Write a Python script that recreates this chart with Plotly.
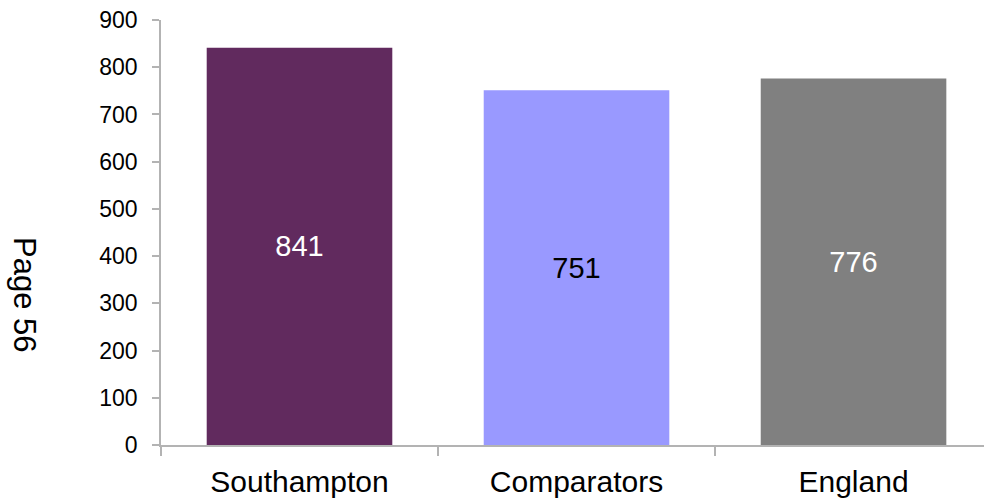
import plotly.graph_objects as go

categories = ["Southampton", "Comparators", "England"]
values = [841, 751, 776]
bar_colors = ["#612A5E", "#9999FF", "#808080"]
label_colors = ["#FFFFFF", "#000000", "#FFFFFF"]
y_ticks = [0, 100, 200, 300, 400, 500, 600, 700, 800, 900]

fig = go.Figure(
    go.Bar(
        x=categories,
        y=values,
        text=[str(v) for v in values],
        textposition="inside",
        insidetextanchor="middle",
        textangle=0,
        textfont=dict(family="Liberation Sans, Arial, sans-serif", size=29, color=label_colors),
        marker=dict(color=bar_colors, line=dict(width=0)),
        width=0.67,
        hoverinfo="skip",
    )
)

axis_color = "#B3B3B3"
fig.update_layout(
    width=984,
    height=500,
    margin=dict(l=161, r=0, t=20, b=55),
    paper_bgcolor="white",
    plot_bgcolor="white",
    showlegend=False,
    font=dict(family="Liberation Sans, Arial, sans-serif", color="#000000"),
    xaxis=dict(
        type="category",
        range=[-0.5, 2.471],
        showgrid=False,
        zeroline=False,
        showline=True,
        linecolor=axis_color,
        linewidth=1.5,
        ticks="outside",
        tickson="boundaries",
        ticklen=9,
        tickcolor=axis_color,
        tickwidth=1.5,
        tickfont=dict(size=30),
        ticklabelstandoff=9,
    ),
    yaxis=dict(
        range=[0, 900],
        tickvals=y_ticks,
        ticktext=[str(t) for t in y_ticks],
        showgrid=False,
        zeroline=False,
        showline=True,
        linecolor=axis_color,
        linewidth=1.5,
        ticks="outside",
        ticklen=7,
        tickcolor=axis_color,
        tickwidth=1.5,
        tickfont=dict(size=23),
        ticklabelstandoff=10,
    ),
    annotations=[
        dict(
            text="Page 56",
            xref="paper",
            yref="paper",
            x=-161 / 823 + 24 / 823,
            y=(445 - 295) / 425,
            xanchor="center",
            yanchor="middle",
            showarrow=False,
            textangle=90,
            font=dict(size=31, color="#000000"),
        )
    ],
)

fig.write_html("out.html")
